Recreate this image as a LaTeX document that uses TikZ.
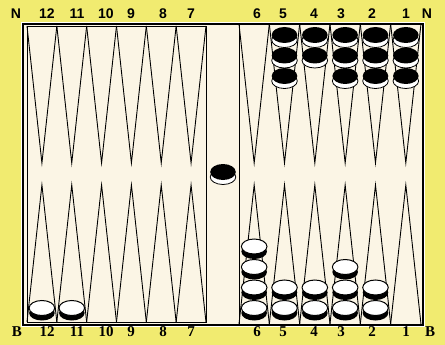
\documentclass[tikz,border=0pt]{standalone}
\usepackage{fontspec}
\setmainfont{Liberation Serif}
\setsansfont{Liberation Sans}
\usepackage{tikz}
\usepackage{xcolor}

\definecolor{paper}{RGB}{241,235,112}
\definecolor{cream}{RGB}{251,245,229}

% black checker: dark face, light rim below
\newcommand{\blackman}[2]{%
  \filldraw[fill=white,line width=0.8pt] ({#1},{#2+5}) ellipse [x radius=12.8,y radius=7.5];
  \fill[black] ({#1},{#2}) ellipse [x radius=12.8,y radius=8];}
% white checker: light face, dark rim below
\newcommand{\whiteman}[2]{%
  \fill[black] ({#1},{#2+5}) ellipse [x radius=12.8,y radius=7.5];
  \filldraw[fill=white,line width=1pt] ({#1},{#2}) ellipse [x radius=12.8,y radius=7.5];}

\begin{document}
\begin{tikzpicture}[
      x=1pt,y=-1pt,
      pt/.style={draw,line width=0.9pt},
      frame/.style={draw,line width=1.4pt},
      toplbl/.style={font=\sffamily\bfseries\fontsize{14}{14}\selectfont,inner sep=0pt},
      botlbl/.style={font=\rmfamily\bfseries\fontsize{15}{15}\selectfont,inner sep=0pt},
    ]
    % background
    \fill[paper] (0,0) rectangle (445,345);
    \useasboundingbox (0,0) rectangle (445,345);
    % board
    \draw[white,line width=4pt] (23,24) rectangle (423,325);
    \fill[cream] (23,24) rectangle (423,325);
    \draw[frame] (23,24) rectangle (423,325);
    \draw[pt] (27,26) rectangle (206,322);
    \draw[pt] (239,24) -- (239,325);

    % points
    \foreach \i in {0,...,5} {
      \pgfmathsetmacro\xa{27+\i*29.83}
      \draw[pt] (\xa,26) -- ({\xa+14.92},163) -- ({\xa+29.83},26);
      \draw[pt] (\xa,322) -- ({\xa+14.92},185) -- ({\xa+29.83},322);
      \pgfmathsetmacro\xb{239+\i*30.33}
      \draw[pt] (\xb,24) -- ({\xb+15.17},163) -- ({\xb+30.33},24);
      \draw[pt] (\xb,324) -- ({\xb+15.17},185) -- ({\xb+30.33},324);
    }

    % black stones, top right
    \foreach \p/\n in {5/3,4/2,3/3,2/3,1/3}
      \foreach \k in {1,...,\n}
        \blackman{239+(6-\p)*30.33+15.17}{35+(\k-1)*20.5};
    % black stone on the bar
    \blackman{223}{172};

    % white stones, bottom right
    \foreach \p/\n in {6/4,5/2,4/2,3/3,2/2}
      \foreach \k in {1,...,\n}
        \whiteman{239+(6-\p)*30.33+15.17}{308-(\k-1)*20.5};
    % white stones, bottom left
    \whiteman{41.9}{308};
    \whiteman{71.8}{308};

    % numbers
    \foreach \n/\x in {12/47,11/77,10/106,9/131,8/163,7/191,6/257,5/283,4/314,3/341,2/372,1/406} {
      \node[toplbl] (top\n) at (\x,14) {\n};
      \node[botlbl] (bot\n) at (\x,332) {\n};
    }
    \node[toplbl] (nleft) at (16,14) {N};
    \node[toplbl] (nright) at (427,14) {N};
    \node[botlbl] (bleft) at (17,332) {B};
    \node[botlbl] (bright) at (430,332) {B};
  \end{tikzpicture}
\end{document}
